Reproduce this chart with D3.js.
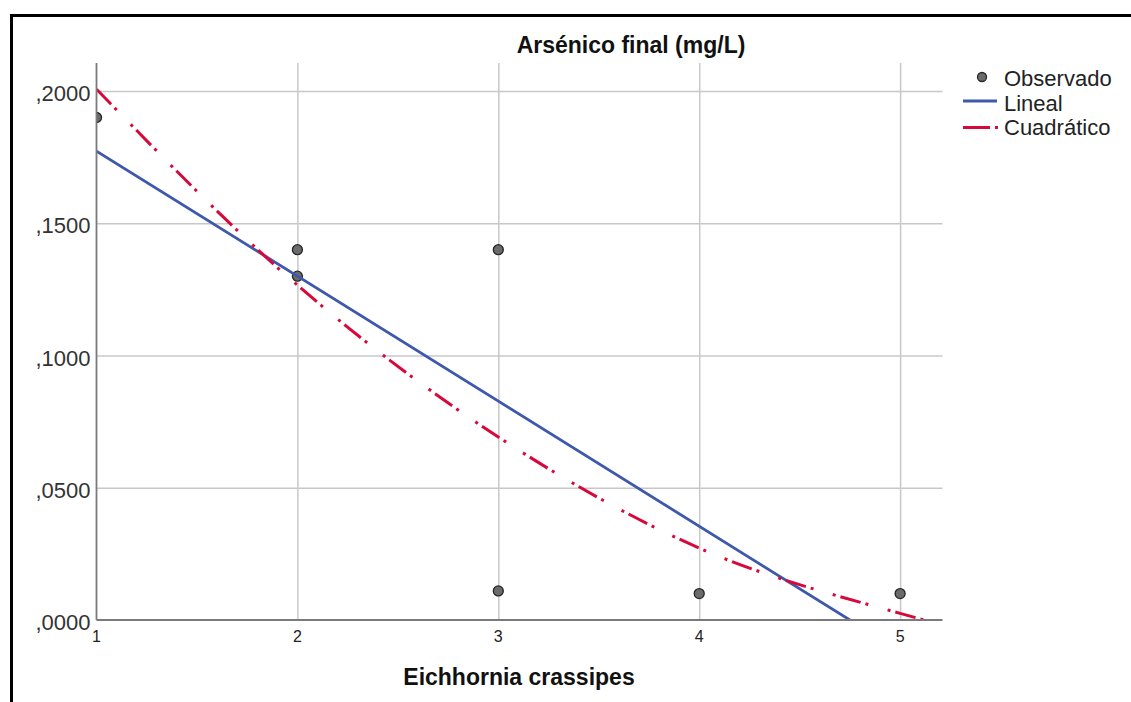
<!DOCTYPE html>
<html>
<head>
<meta charset="utf-8">
<script src="https://cdn.jsdelivr.net/npm/d3@7"></script>
<style>
  body { margin: 0; background: #fff; }
  text { font-family: "Liberation Sans", Arial, sans-serif; }
</style>
</head>
<body>
<div id="d3"></div>
<script>
// observed values
var obsX = [1, 2, 2, 3, 3, 4, 5];
var obsY = [0.19, 0.14, 0.13, 0.14, 0.011, 0.010, 0.010];

// fitted lines
var linX = [1, 4.75];
var linY = [0.1773, 0];
var quadX = [1, 2, 3, 4, 5, 5.12];
var quadY = [0.2007, 0.1266, 0.0692, 0.0272, 0.0025, 0];

// ticks
var xTicks = [1, 2, 3, 4, 5];
var xTickLabels = ["1", "2", "3", "4", "5"];
var yTicks = [0, 0.05, 0.1, 0.15, 0.2];
var yTickLabels = [",0000", ",0500", ",1000", ",1500", ",2000"];

var legendNames = ["Observado", "Lineal", "Cuadrático"];

var W = 1131, H = 702;
var plot = {left: 96.5, right: 942.5, top: 63, bottom: 620};
var blue = "#3e58ac", red = "#d7083b";

var svg = d3.select("#d3")
  .append("svg")
  .attr("width", W)
  .attr("height", H);

// outer frame
svg.append("rect")
  .attr("x", 11.5).attr("y", 15.5)
  .attr("width", 1300).attr("height", 900)
  .attr("fill", "none")
  .attr("stroke", "#000")
  .attr("stroke-width", 3);

var x = d3.scaleLinear().domain([1, 5.211]).range([plot.left, plot.right]);
var y = d3.scaleLinear().domain([0, 0.2106]).range([plot.bottom, plot.top]);

svg.append("clipPath").attr("id", "plotclip")
  .append("rect")
  .attr("x", plot.left).attr("y", plot.top)
  .attr("width", plot.right - plot.left).attr("height", plot.bottom - plot.top);

// grid lines
svg.append("g")
  .attr("transform", "translate(0," + plot.bottom + ")")
  .call(d3.axisBottom(x).tickValues(xTicks.slice(1)).tickSize(-(plot.bottom - plot.top)).tickFormat(""))
  .call(g => g.select(".domain").remove())
  .selectAll("line").attr("stroke", "#c8c8c8").attr("stroke-width", 1.5);

svg.append("g")
  .attr("transform", "translate(" + plot.left + ",0)")
  .call(d3.axisLeft(y).tickValues(yTicks.slice(1)).tickSize(-(plot.right - plot.left)).tickFormat(""))
  .call(g => g.select(".domain").remove())
  .selectAll("line").attr("stroke", "#c8c8c8").attr("stroke-width", 1.5);

// points
var obs = obsX.map((d, i) => ({x: d, y: obsY[i]}));
svg.append("g")
  .attr("clip-path", "url(#plotclip)")
  .selectAll("circle")
  .data(obs)
  .enter().append("circle")
    .attr("cx", d => x(d.x))
    .attr("cy", d => y(d.y))
    .attr("r", 5)
    .attr("fill", "#6b6b6b")
    .attr("stroke", "#262626")
    .attr("stroke-width", 1.3);

// fit lines
var line = d3.line().x(d => x(d.x)).y(d => y(d.y));

svg.append("path")
  .datum(linX.map((d, i) => ({x: d, y: linY[i]})))
  .attr("clip-path", "url(#plotclip)")
  .attr("fill", "none")
  .attr("stroke", blue)
  .attr("stroke-width", 2.8)
  .attr("d", line);

svg.append("path")
  .datum(quadX.map((d, i) => ({x: d, y: quadY[i]})))
  .attr("clip-path", "url(#plotclip)")
  .attr("fill", "none")
  .attr("stroke", red)
  .attr("stroke-width", 3)
  .attr("stroke-dasharray", "21,5,3,20,3,5")
  .attr("d", line.curve(d3.curveMonotoneX));

// axis lines
svg.append("line")
  .attr("x1", plot.left).attr("x2", plot.left).attr("y1", plot.top).attr("y2", plot.bottom)
  .attr("stroke", "#7a7a7a").attr("stroke-width", 1.8);
svg.append("line")
  .attr("x1", plot.left).attr("x2", plot.right).attr("y1", plot.bottom).attr("y2", plot.bottom)
  .attr("stroke", "#7a7a7a").attr("stroke-width", 1.8);

// tick labels
svg.append("g").selectAll("text")
  .data(yTicks)
  .enter().append("text")
    .attr("x", plot.left - 6)
    .attr("y", d => y(d) + 10)
    .attr("text-anchor", "end")
    .attr("font-size", 22)
    .attr("fill", "#333")
    .text((d, i) => yTickLabels[i]);

svg.append("g").selectAll("text")
  .data(xTicks)
  .enter().append("text")
    .attr("x", d => x(d))
    .attr("y", plot.bottom + 22)
    .attr("text-anchor", "middle")
    .attr("font-size", 16)
    .attr("fill", "#222")
    .text((d, i) => xTickLabels[i]);

// titles
svg.append("text")
  .attr("x", 631).attr("y", 53)
  .attr("text-anchor", "middle")
  .attr("font-size", 23).attr("font-weight", "bold")
  .attr("fill", "#111")
  .text("Arsénico final (mg/L)");

svg.append("text")
  .attr("x", 519).attr("y", 685)
  .attr("text-anchor", "middle")
  .attr("font-size", 23).attr("font-weight", "bold")
  .attr("fill", "#111")
  .text("Eichhornia crassipes");

// legend
var lg = svg.append("g");
lg.append("circle")
  .attr("cx", 982).attr("cy", 77).attr("r", 4.5)
  .attr("fill", "#6b6b6b").attr("stroke", "#262626").attr("stroke-width", 1.3);
lg.append("line")
  .attr("x1", 963).attr("x2", 997).attr("y1", 101).attr("y2", 101)
  .attr("stroke", blue).attr("stroke-width", 2.8);
lg.append("line")
  .attr("x1", 963).attr("x2", 999).attr("y1", 127.5).attr("y2", 127.5)
  .attr("stroke", red).attr("stroke-width", 3)
  .attr("stroke-dasharray", "27,5,3,20");
lg.selectAll("text")
  .data(legendNames)
  .enter().append("text")
    .attr("x", 1004)
    .attr("y", (d, i) => 86 + i * 24.5)
    .attr("font-size", 22)
    .attr("fill", "#222")
    .text(d => d);
</script>
</body>
</html>
